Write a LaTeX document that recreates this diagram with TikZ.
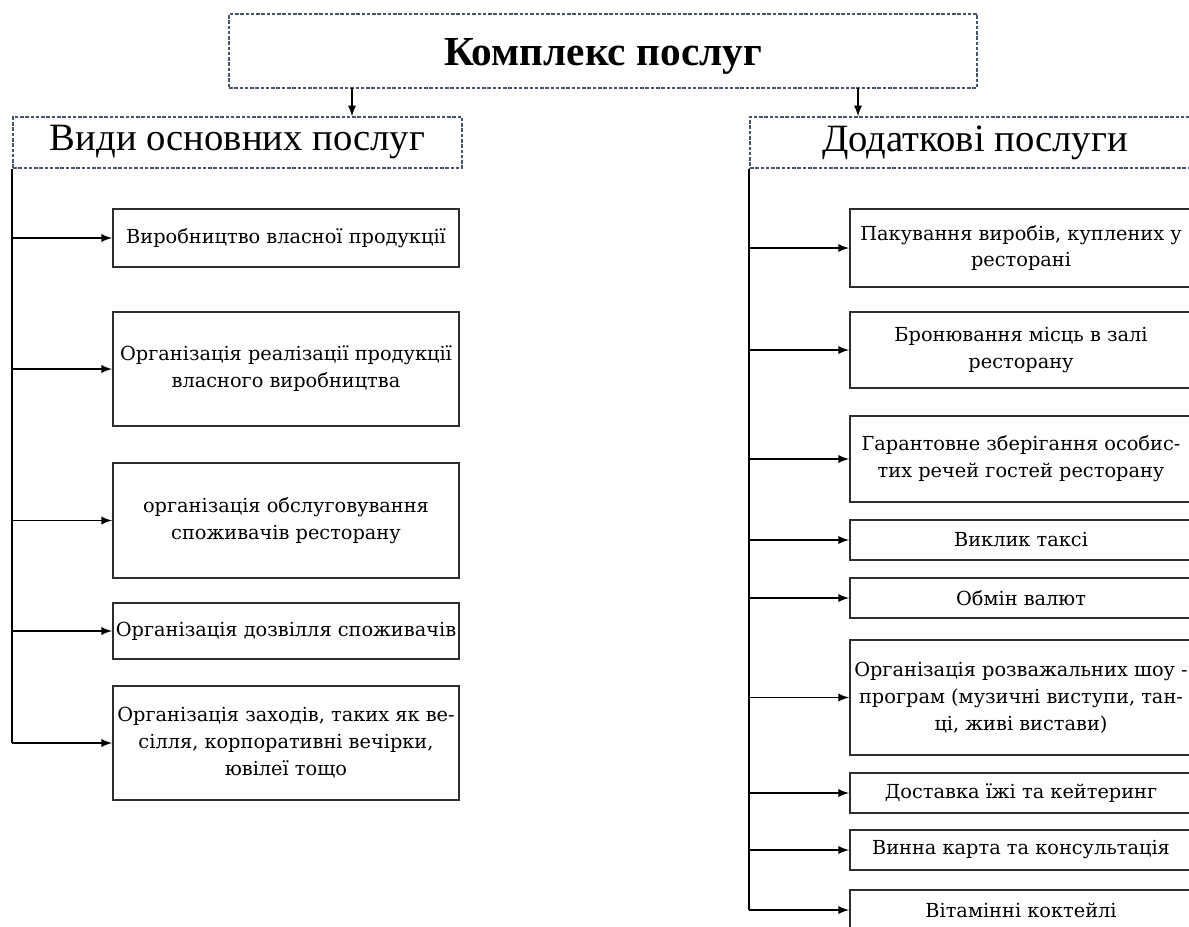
\documentclass[tikz,border=0pt]{standalone}
\usepackage{fontspec}
\setmainfont{DejaVu Serif}
\newfontfamily\headfont{Liberation Serif}
\usetikzlibrary{arrows,calc}
\definecolor{dashblue}{RGB}{70,85,110}
\definecolor{boxgray}{RGB}{45,45,45}

\begin{document}
\begin{tikzpicture}[
  hbox/.style={draw=dashblue, dash pattern=on 2pt off 1pt, line width=0.8pt, inner sep=0pt, minimum height=1.02cm, font=\headfont\fontsize{22}{26}\selectfont},
  sbox/.style={draw=boxgray, line width=1.1pt, inner sep=0pt, align=center, font=\fontsize{11}{15.3}\selectfont},
  lbox/.style={sbox, minimum width=6.92cm},
  rbox/.style={sbox, minimum width=6.84cm},
  arr/.style={black, line width=1.1pt, -latex}]
\useasboundingbox (0cm,0cm) rectangle (23.78cm,-18.52cm);
\clip (0cm,0cm) rectangle (23.78cm,-18.52cm);

% top
\node[hbox, minimum width=14.96cm, minimum height=1.48cm] (top) at (12.06cm,-1.02cm) {};
\node[font=\headfont\bfseries\fontsize{23.5}{26}\selectfont, inner sep=0pt] (toptext) at (12.06cm,-1.12cm) {Комплекс послуг};
\node[hbox, minimum width=8.98cm] (lhead) at (4.75cm,-2.85cm) {Види основних послуг};
\node[hbox, minimum width=9.0cm] (rhead) at (19.5cm,-2.85cm) {Додаткові послуги};
\coordinate (la) at (7.04cm,-1.76cm);
\coordinate (ra) at (17.16cm,-1.76cm);
\draw[arr] (la) -- (la |- lhead.north);
\draw[arr] (ra) -- (ra |- rhead.north);

% left column
\node[lbox, minimum height=1.16cm] (l1) at (5.72cm,-4.76cm) {Виробництво власної продукції};
\node[lbox, minimum height=2.28cm] (l2) at (5.72cm,-7.38cm) {Організація реалізації продукції\\власного виробництва};
\node[lbox, minimum height=2.30cm] (l3) at (5.72cm,-10.41cm) {організація обслуговування\\споживачів ресторану};
\node[lbox, minimum height=1.12cm] (l4) at (5.72cm,-12.62cm) {Організація дозвілля споживачів};
\node[lbox, minimum height=2.28cm] (l5) at (5.72cm,-14.86cm) {Організація заходів, таких як ве-\\сілля, корпоративні вечірки,\\ювілеї тощо};
\draw[black, line width=1.1pt] (lhead.south west) -- (lhead.south west |- l5.west);
\foreach \b in {l1,l2,l3,l4,l5}
  \draw[arr] (lhead.south west |- \b.west) -- (\b.west);

% right column
\node[rbox, minimum height=1.56cm] (r1) at (20.42cm,-4.96cm) {Пакування виробів, куплених у\\ресторані};
\node[rbox, minimum height=1.52cm] (r2) at (20.42cm,-7.00cm) {Бронювання місць в залі\\ресторану};
\node[rbox, minimum height=1.72cm] (r3) at (20.42cm,-9.18cm) {Гарантовне зберігання особис-\\тих речей гостей ресторану};
\node[rbox, minimum height=0.80cm] (r4) at (20.42cm,-10.80cm) {Виклик таксі};
\node[rbox, minimum height=0.80cm] (r5) at (20.42cm,-11.96cm) {Обмін валют};
\node[rbox, minimum height=2.30cm] (r6) at (20.42cm,-13.95cm) {Організація розважальних шоу -\\програм (музичні виступи, тан-\\ці, живі вистави)};
\node[rbox, minimum height=0.80cm] (r7) at (20.42cm,-15.86cm) {Доставка їжі та кейтеринг};
\node[rbox, minimum height=0.80cm] (r8) at (20.42cm,-17.00cm) {Винна карта та консультація};
\node[rbox, minimum height=0.80cm] (r9) at (20.42cm,-18.20cm) {Вітамінні коктейлі};
\draw[black, line width=1.1pt] (rhead.south west) -- (rhead.south west |- r9.west);
\foreach \b in {r1,r2,r3,r4,r5,r6,r7,r8,r9}
  \draw[arr] (rhead.south west |- \b.west) -- (\b.west);
\end{tikzpicture}
\end{document}
